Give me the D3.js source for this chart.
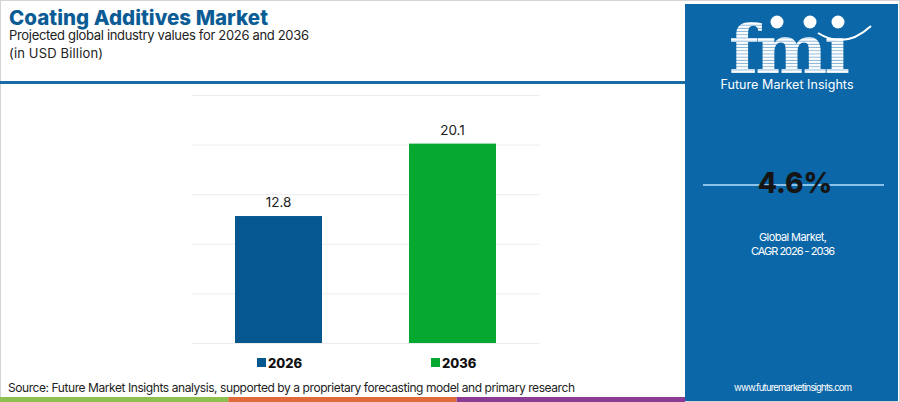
<!DOCTYPE html>
<html>
<head>
<meta charset="utf-8">
<script src="https://cdn.jsdelivr.net/npm/d3@7"></script>
<style>
  html, body { margin: 0; padding: 0; background: #fff; }
  svg { display: block; font-family: Inter, "Open Sans", sans-serif; }
</style>
</head>
<body>
<div id="chart"></div>
<script>
// chart values
var years = ["2026", "2036"];
var values = [12.8, 20.1];
var barColors = ["#05588f", "#07a82f"];
var yTicks = [0, 5, 10, 15, 20, 25];
var cagr = "4.6%";
var footerColors = ["#8dc04f", "#e2693a", "#8a3b94"];

var W = 900, H = 402;
var svg = d3.select("#chart").append("svg")
  .attr("width", W)
  .attr("height", H);

// frame
svg.append("rect")
  .attr("x", 0.5).attr("y", 0.5)
  .attr("width", W - 1).attr("height", H - 1)
  .attr("fill", "#fff")
  .attr("stroke", "#d4d4d4");

// header
svg.append("text")
  .attr("x", 9).attr("y", 25)
  .attr("fill", "#0b5c95")
  .attr("font-size", 20.5)
  .attr("font-weight", 800)
  .attr("textLength", 259)
  .text("Coating Additives Market");
svg.append("text")
  .attr("x", 9).attr("y", 40)
  .attr("fill", "#222")
  .attr("font-size", 13)
  .attr("textLength", 300)
  .text("Projected global industry values for 2026 and 2036");
svg.append("text")
  .attr("x", 9).attr("y", 58)
  .attr("fill", "#222")
  .attr("font-size", 13)
  .attr("textLength", 94)
  .text("(in USD Billion)");
svg.append("rect")
  .attr("x", 0).attr("y", 81)
  .attr("width", 685).attr("height", 3)
  .attr("fill", "#1a6aa6");

// scales
var x = d3.scaleBand()
  .domain(years)
  .range([191.5, 539.5])
  .paddingInner(0.5)
  .paddingOuter(0.25);

var y = d3.scaleLinear()
  .domain([0, 25])
  .range([343, 95]);

// grid
var grid = svg.append("g").attr("class", "grid")
  .attr("transform", "translate(191.5,0)")
  .call(d3.axisLeft(y).tickValues(yTicks).tickSize(-348).tickFormat(""));
grid.select(".domain").remove();
grid.selectAll(".tick line").attr("stroke", "#ececec").attr("stroke-width", 1);

// bars
svg.append("g").selectAll("rect")
  .data(values)
  .join("rect")
  .attr("x", function(d, i) { return x(years[i]); })
  .attr("y", function(d) { return y(d); })
  .attr("width", x.bandwidth())
  .attr("height", function(d) { return y(0) - y(d); })
  .attr("fill", function(d, i) { return barColors[i]; });

svg.append("g").selectAll("text")
  .data(values)
  .join("text")
  .attr("x", function(d, i) { return x(years[i]) + x.bandwidth() / 2; })
  .attr("y", function(d) { return y(d) - 9; })
  .attr("text-anchor", "middle")
  .attr("font-size", 13.5)
  .attr("fill", "#222")
  .text(function(d) { return d.toFixed(1); });

// legend
var legend = svg.append("g").selectAll("g")
  .data(years)
  .join("g")
  .attr("transform", function(d) { return "translate(" + (x(d) + 22) + ",358)"; });
legend.append("rect")
  .attr("width", 9).attr("height", 9)
  .attr("fill", function(d, i) { return barColors[i]; });
legend.append("text")
  .attr("x", 11).attr("y", 9.5)
  .attr("font-size", 13)
  .attr("font-weight", 800)
  .attr("fill", "#111")
  .text(function(d) { return d; });

// source + footer stripe
svg.append("text")
  .attr("x", 8).attr("y", 392)
  .attr("font-size", 12)
  .attr("fill", "#222")
  .attr("textLength", 567)
  .text("Source: Future Market Insights analysis, supported by a proprietary forecasting model and primary research");

var fx = d3.scaleBand().domain(d3.range(footerColors.length)).range([0, 685]);
svg.append("g").selectAll("rect")
  .data(footerColors)
  .join("rect")
  .attr("x", function(d, i) { return fx(i); })
  .attr("y", 397)
  .attr("width", fx.bandwidth())
  .attr("height", 5)
  .attr("fill", function(d) { return d; });

// right panel
var panel = svg.append("g");
panel.append("rect")
  .attr("x", 685).attr("y", 4)
  .attr("width", 213).attr("height", 397)
  .attr("fill", "#0b67a8");

// logo: striped "fmi"
var defs = svg.append("defs");
var pat = defs.append("pattern")
  .attr("id", "stripes")
  .attr("patternUnits", "userSpaceOnUse")
  .attr("width", 4).attr("height", 3.2);
pat.append("rect").attr("width", 4).attr("height", 3.2).attr("fill", "#fff");
pat.append("rect").attr("y", 2.3).attr("width", 4).attr("height", 0.9).attr("fill", "#7fb0d6");

panel.append("text")
  .attr("x", 788).attr("y", 73)
  .attr("text-anchor", "middle")
  .attr("font-family", "DejaVu Serif, serif")
  .attr("font-weight", "bold")
  .attr("font-size", 68)
  .attr("letter-spacing", -3)
  .attr("fill", "url(#stripes)")
  .text("fm\u0131");
[777, 810, 838].forEach(function(cx) {
  panel.append("circle").attr("cx", cx).attr("cy", 22).attr("r", 6.5).attr("fill", "#fff");
});
panel.append("path")
  .attr("d", "M818,33 Q845,50 871,26")
  .attr("fill", "none").attr("stroke", "#fff").attr("stroke-width", 2);
panel.append("text")
  .attr("x", 787).attr("y", 89)
  .attr("text-anchor", "middle")
  .attr("font-size", 12.5)
  .attr("fill", "#fff")
  .attr("textLength", 133)
  .text("Future Market Insights");

// CAGR
panel.append("line")
  .attr("x1", 703).attr("x2", 884)
  .attr("y1", 185).attr("y2", 185)
  .attr("stroke", "#8cc2ea").attr("stroke-width", 2);
panel.append("text")
  .attr("x", 795).attr("y", 193)
  .attr("text-anchor", "middle")
  .attr("font-size", 28)
  .attr("font-weight", 800)
  .attr("fill", "#151515")
  .text(cagr);
panel.append("text")
  .attr("x", 793).attr("y", 241)
  .attr("text-anchor", "middle")
  .attr("font-size", 11)
  .attr("fill", "#fff")
  .attr("textLength", 68)
  .text("Global Market,");
panel.append("text")
  .attr("x", 793).attr("y", 255)
  .attr("text-anchor", "middle")
  .attr("font-size", 11)
  .attr("fill", "#fff")
  .attr("textLength", 84)
  .text("CAGR 2026 - 2036");
panel.append("text")
  .attr("x", 793).attr("y", 391)
  .attr("text-anchor", "middle")
  .attr("font-size", 9.5)
  .attr("fill", "#fff")
  .attr("textLength", 118)
  .text("www.futuremarketinsights.com");
</script>
</body>
</html>
